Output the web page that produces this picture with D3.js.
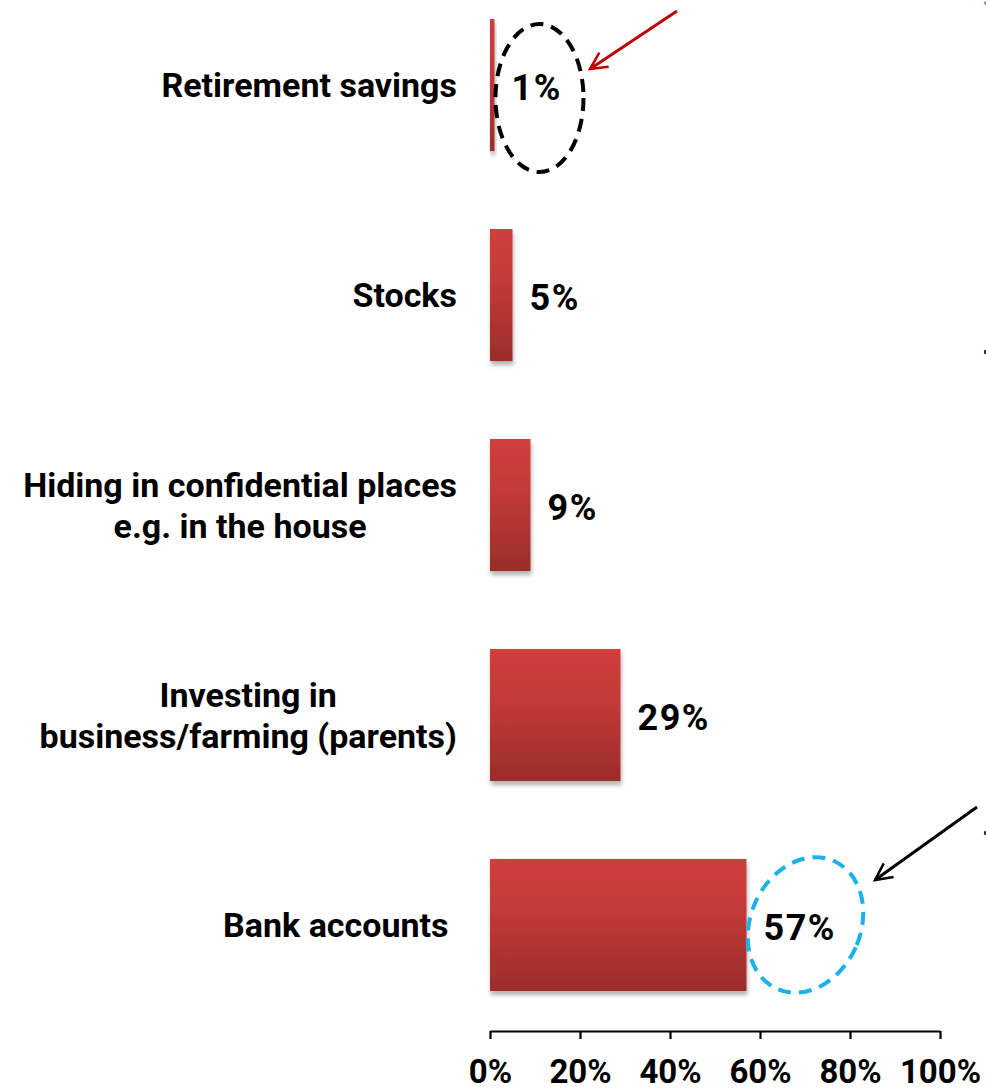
<!DOCTYPE html>
<html><head><meta charset="utf-8">
<script src="https://cdn.jsdelivr.net/npm/d3@7"></script>
<style>
html,body{margin:0;padding:0;background:#fff;}
svg{display:block;}
text{font-family:Roboto,"DejaVu Sans",sans-serif;font-weight:700;fill:#000;}
</style></head>
<body>
<script>
const categories = ["Retirement savings", "Stocks", "Hiding in confidential places\ne.g. in the house", "Investing in\nbusiness/farming (parents)", "Bank accounts\u00a0"];
const values = [0.01, 0.05, 0.09, 0.29, 0.57];
const valueLabels = ["1%", "5%", "9%", "29%", "57%"];
const tickValues = [0, 0.2, 0.4, 0.6, 0.8, 1.0];

const W = 986, H = 1088;
const svg = d3.select("body").append("svg").attr("width", W).attr("height", H);
const defs = svg.append("defs");
const grad = defs.append("linearGradient").attr("id", "barGrad").attr("x1", 0).attr("y1", 0).attr("x2", 0).attr("y2", 1);
grad.append("stop").attr("offset", "0%").attr("stop-color", "#cf3f3c");
grad.append("stop").attr("offset", "40%").attr("stop-color", "#c33a37");
grad.append("stop").attr("offset", "100%").attr("stop-color", "#9b2d2b");
const flt = defs.append("filter").attr("id", "shadow").attr("x", "-20%").attr("y", "-20%").attr("width", "160%").attr("height", "160%");
flt.append("feDropShadow").attr("dx", 1).attr("dy", 4).attr("stdDeviation", 2.2).attr("flood-color", "#000").attr("flood-opacity", 0.3);

const x = d3.scaleLinear().domain([0, 1]).range([490, 940]);
const y = d3.scaleBand().domain(categories).range([0, 1010]).paddingInner(0.371).paddingOuter(0.0905);

// bars
svg.append("g").selectAll("rect").data(categories).join("rect")
  .attr("x", x(0))
  .attr("y", d => y(d))
  .attr("width", (d, i) => x(values[i]) - x(0))
  .attr("height", y.bandwidth())
  .attr("fill", "url(#barGrad)")
  .attr("filter", "url(#shadow)");

// category labels
const labelRight = 457;
const lg = svg.append("g").attr("font-size", 34);
categories.forEach((c, i) => {
  const lines = c.split("\n");
  const cy = y(c) + y.bandwidth() / 2;
  const lineH = 41;
  const t = lg.append("text").style("white-space", "pre");
  lines.forEach((ln, j) => {
    t.append("tspan").text(ln)
      .attr("y", cy + (j - (lines.length - 1) / 2) * lineH)
      .attr("dy", "0.36em");
  });
  if (lines.length === 1) {
    t.attr("text-anchor", "end").selectAll("tspan").attr("x", labelRight);
  } else {
    const maxW = d3.max(t.selectAll("tspan").nodes(), n => n.getComputedTextLength());
    t.attr("text-anchor", "middle").selectAll("tspan").attr("x", labelRight - maxW / 2);
  }
});

// value labels
svg.append("g").attr("font-size", 36).attr("letter-spacing", 1.5).selectAll("text").data(categories).join("text")
  .attr("x", (d, i) => x(values[i]) + 17)
  .attr("y", d => y(d) + y.bandwidth() / 2 + 2)
  .attr("dy", "0.36em")
  .text((d, i) => valueLabels[i]);

// axis
const axis = svg.append("g").attr("transform", "translate(0,1031)")
  .call(d3.axisBottom(x).tickValues(tickValues).tickSize(8).tickSizeOuter(0).tickFormat(d3.format(".0%")));
axis.attr("font-family", null).attr("font-size", null);
axis.select(".domain").attr("stroke", "#000").attr("stroke-width", 2.2);
axis.selectAll(".tick line").attr("stroke", "#000").attr("stroke-width", 2.2);
axis.selectAll(".tick text").attr("font-size", 33).attr("fill", "#000").attr("y", 40).attr("dy", "0.36em");

// annotations: dashed ellipses and arrows
defs.append("marker").attr("id", "headRed").attr("viewBox", "0 0 10 10").attr("refX", 9).attr("refY", 5)
  .attr("markerWidth", 7).attr("markerHeight", 7).attr("markerUnits", "strokeWidth").attr("orient", "auto")
  .append("path").attr("d", "M1,1 L9,5 L1,9").attr("fill", "none").attr("stroke", "#c00000").attr("stroke-width", 1.2);
defs.append("marker").attr("id", "headBlack").attr("viewBox", "0 0 10 10").attr("refX", 9).attr("refY", 5)
  .attr("markerWidth", 7).attr("markerHeight", 7).attr("markerUnits", "strokeWidth").attr("orient", "auto")
  .append("path").attr("d", "M1,1 L9,5 L1,9").attr("fill", "none").attr("stroke", "#000").attr("stroke-width", 1.2);

const c0 = categories[0], c4 = categories[4];
svg.append("ellipse")
  .attr("cx", x(values[0]) + 45).attr("cy", y(c0) + y.bandwidth() / 2 + 13)
  .attr("rx", 44).attr("ry", 74)
  .attr("fill", "none").attr("stroke", "#000").attr("stroke-width", 4).attr("stroke-dasharray", "13 8");

svg.append("line").attr("x1", 677).attr("y1", 11).attr("x2", 590).attr("y2", 69)
  .attr("stroke", "#c00000").attr("stroke-width", 3).attr("marker-end", "url(#headRed)");

svg.append("ellipse")
  .attr("transform", `translate(${x(values[4]) + 59},${y(c4) + y.bandwidth() / 2}) rotate(24)`)
  .attr("rx", 55).attr("ry", 70)
  .attr("fill", "none").attr("stroke", "#1bb1ec").attr("stroke-width", 4).attr("stroke-dasharray", "13 8");

svg.append("line").attr("x1", 977).attr("y1", 807).attr("x2", 875).attr("y2", 880)
  .attr("stroke", "#000").attr("stroke-width", 3).attr("marker-end", "url(#headBlack)");

// bullet remnants at right edge
svg.append("circle").attr("cx", 986).attr("cy", 352).attr("r", 2.2).attr("fill", "#222");
svg.append("circle").attr("cx", 986).attr("cy", 833).attr("r", 2.2).attr("fill", "#222");
svg.append("circle").attr("cx", 986).attr("cy", 3).attr("r", 1.8).attr("fill", "#c0504d");
</script>
</body></html>
